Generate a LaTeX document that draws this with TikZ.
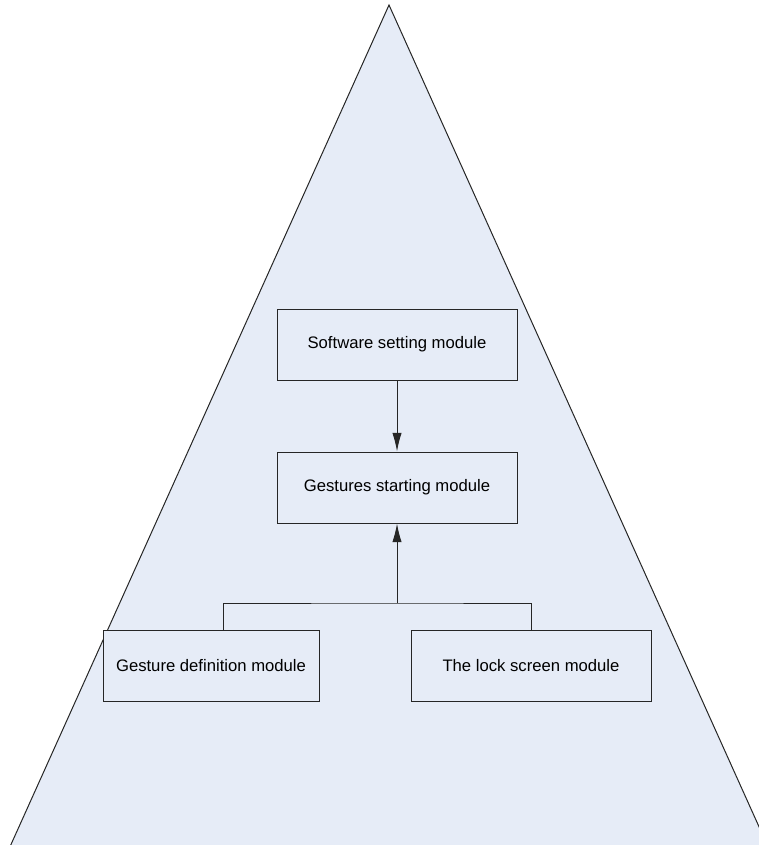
\documentclass[tikz,border=0pt]{standalone}
\usepackage{xcolor}
\usepackage{fontspec}
\setmainfont{Liberation Sans}
\usepackage{tikz}
\usetikzlibrary{calc}
\usetikzlibrary{arrows.meta}
\usetikzlibrary{positioning}
\definecolor{pyrfill}{RGB}{230,236,247}
\tikzset{>=latex}
\tikzstyle{modbox} = [draw=black!85, fill=pyrfill, line width=0.75pt, minimum width=180pt, minimum height=53.25pt, inner sep=0, font=\fontsize{12.5}{15}\selectfont]
\tikzstyle{link} = [draw=black!85, line width=0.75pt]

\begin{document}
\begin{tikzpicture}[x=0.75pt, y=-0.75pt]
\useasboundingbox (0,0) rectangle (759,845);
\begin{scope}
\clip (0,0) rectangle (759,845);
\filldraw [fill=pyrfill, draw=black!85, line width=0.75pt] (389,5) -- (792,900) -- (-14,900) -- cycle;
\end{scope}
\node [modbox]  (soft) at (397, 344.5) {Software setting module};
\node [modbox]  (start) at (397, 487.5) {Gestures starting module};
\node [modbox, minimum width=162pt]  (gdef) at (211, 665.5) {Gesture definition module};
\node [modbox]  (lock) at (531, 665.5) {The lock screen module};
\coordinate (bus) at (397, 603);
%\node [draw=none] at (397,603) {bus};
\draw [link, -{Latex[length=14pt, width=7pt]}] (soft) to (start);
\draw [link] ([xshift=9pt]gdef.north) |- (bus) -| (lock.north);
\draw [link, -{Latex[length=14pt, width=7pt]}] (bus) to (start.south);
\end{tikzpicture}
\end{document}
